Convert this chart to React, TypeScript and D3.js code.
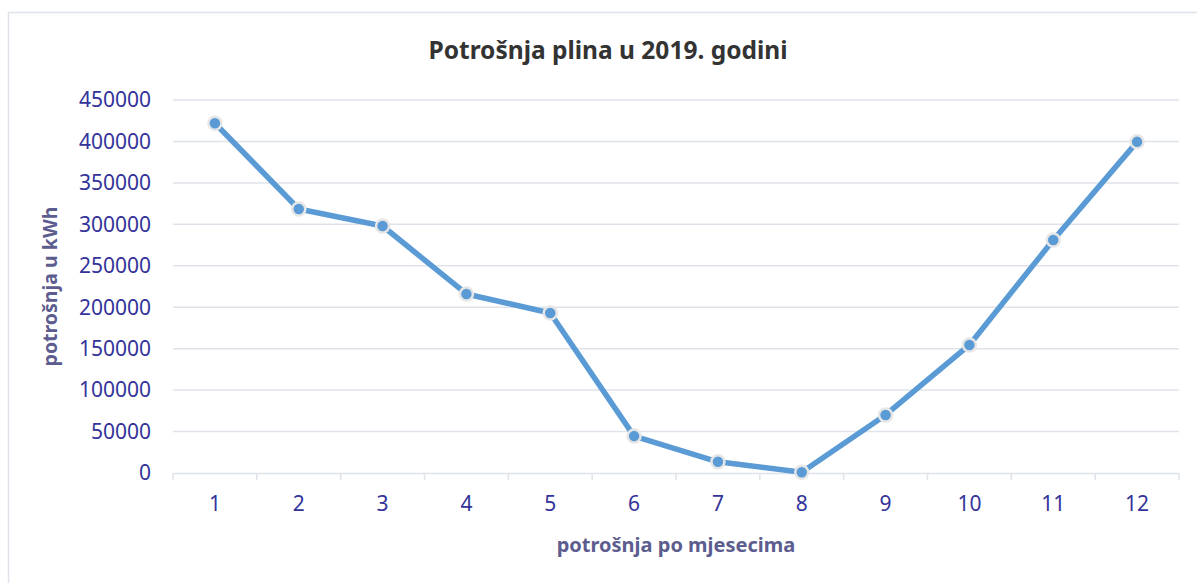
import React from 'react';
import * as d3 from 'd3';

const months = ['1', '2', '3', '4', '5', '6', '7', '8', '9', '10', '11', '12'];
const consumption = [422000, 318500, 298000, 216000, 193000, 44500, 13500, 1000, 70000, 154500, 281000, 399500];
const yTicks = [0, 50000, 100000, 150000, 200000, 250000, 300000, 350000, 400000, 450000];

const chartTitle = 'Potrošnja plina u 2019. godini';
const xTitle = 'potrošnja po mjesecima';
const yTitle = 'potrošnja u kWh';

const App = () => {
    const svgRef = React.useRef(null);

    const width = 1197;
    const height = 583;
    const margin = { top: 100, right: 18, bottom: 110, left: 173 };

    React.useEffect(() => {
        document.body.style.margin = '0';
        const svg = d3.select(svgRef.current);
        svg.selectAll('*').remove();

        const font = '"Noto Sans", "Open Sans", sans-serif';

        // chart frame
        svg.append('rect')
            .attr('x', 8.5)
            .attr('y', 12.5)
            .attr('width', width + 20)
            .attr('height', height + 20)
            .attr('fill', 'white')
            .attr('stroke', '#dfe3ea')
            .attr('stroke-width', 1.5);

        const x = d3.scaleBand()
            .domain(months)
            .range([margin.left, width - margin.right])
            .padding(0);

        const y = d3.scaleLinear()
            .domain([0, 450000])
            .range([height - margin.bottom, margin.top]);

        // gridlines
        svg.append('g')
            .selectAll('line')
            .data(yTicks.filter(d => d > 0))
            .join('line')
            .attr('x1', margin.left)
            .attr('x2', width - margin.right)
            .attr('y1', d => y(d))
            .attr('y2', d => y(d))
            .attr('stroke', '#dfe3ea')
            .attr('stroke-width', 1.5);

        // y tick labels
        svg.append('g')
            .selectAll('text')
            .data(yTicks)
            .join('text')
            .attr('x', margin.left - 22)
            .attr('y', d => y(d))
            .attr('dy', '0.35em')
            .attr('text-anchor', 'end')
            .style('font-family', font)
            .style('font-size', '21px')
            .attr('fill', '#33339a')
            .text(d => d);

        // x axis
        const xAxis = svg.append('g')
            .attr('transform', `translate(0,${y(0)})`)
            .call(d3.axisBottom(x).tickSize(0).tickSizeOuter(0));
        xAxis.select('.domain').attr('stroke', '#dfe3ea').attr('stroke-width', 1.5);
        xAxis.selectAll('.tick text')
            .attr('dy', 0)
            .attr('y', 38)
            .style('font-family', font)
            .style('font-size', '21px')
            .attr('fill', '#33339a');

        const boundaries = months.map(m => x(m)).concat([x.range()[1]]);
        xAxis.append('g')
            .selectAll('line')
            .data(boundaries)
            .join('line')
            .attr('x1', d => d)
            .attr('x2', d => d)
            .attr('y1', 0)
            .attr('y2', 7)
            .attr('stroke', '#dfe3ea')
            .attr('stroke-width', 1.5);

        const cx = (d, i) => x(months[i]) + x.bandwidth() / 2;

        const line = d3.line()
            .x((d, i) => cx(d, i))
            .y(d => y(d));

        svg.append('path')
            .datum(consumption)
            .attr('d', line)
            .attr('fill', 'none')
            .attr('stroke', '#5b9bd5')
            .attr('stroke-width', 5.5)
            .attr('stroke-linejoin', 'round');

        svg.append('g')
            .selectAll('circle')
            .data(consumption)
            .join('circle')
            .attr('cx', (d, i) => cx(d, i))
            .attr('cy', d => y(d))
            .attr('r', 6.5)
            .attr('fill', '#5b9bd5')
            .attr('stroke', '#e6e6e6')
            .attr('stroke-width', 2.5);

        // titles
        svg.append('text')
            .attr('x', 608)
            .attr('y', 59)
            .attr('text-anchor', 'middle')
            .style('font-family', font)
            .style('font-size', '24.5px')
            .style('font-weight', 'bold')
            .attr('fill', '#333333')
            .text(chartTitle);

        svg.append('text')
            .attr('x', (margin.left + width - margin.right) / 2)
            .attr('y', 552)
            .attr('text-anchor', 'middle')
            .style('font-family', font)
            .style('font-size', '20px')
            .style('font-weight', 'bold')
            .attr('fill', '#5c5c8e')
            .text(xTitle);

        svg.append('text')
            .attr('transform', `translate(57,${(margin.top + height - margin.bottom) / 2}) rotate(-90)`)
            .attr('text-anchor', 'middle')
            .style('font-family', font)
            .style('font-size', '19.5px')
            .style('font-weight', 'bold')
            .attr('fill', '#5c5c8e')
            .text(yTitle);

    // eslint-disable-next-line react-hooks/exhaustive-deps
    }, []);

    return <svg ref={svgRef} width={width} height={height} style={{ display: 'block' }} />;
};

export default App;
